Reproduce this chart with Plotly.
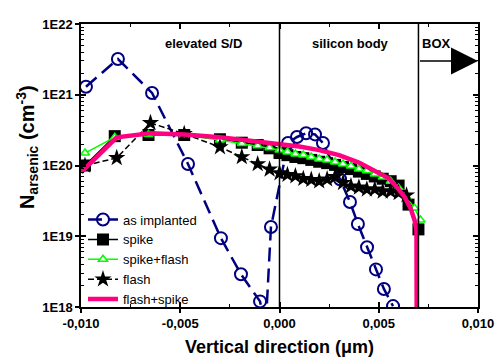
import math
import plotly.graph_objects as go

# ---------------- data ----------------
x_impl = [-0.00975, -0.00814, -0.00642, -0.00461, -0.00295, -0.00194, -0.00098, -0.0007, -0.00043,
          0.00043, 0.00088, 0.00134, 0.00179, 0.00219,
          0.00305, 0.00355, 0.00395, 0.00441, 0.00486, 0.00526, 0.00572]
y_impl = [1.3e21, 3.2e21, 1.06e21, 1.05e20, 9.4e18, 2.9e18, 1.2e18, 5e17, 1.35e19,
          2.08e20, 2.53e20, 2.85e20, 2.75e20, 2.08e20,
          6.4e19, 3.05e19, 1.49e19, 7.0e18, 3.4e18, 1.8e18, 1.03e18]

x_spike = [-0.0098, -0.0083, -0.0066, -0.0048, -0.0030, -0.0019, -0.0011, -0.0005,
           0.0000, 0.0004, 0.0008, 0.0012, 0.0016, 0.0020, 0.0024, 0.0028, 0.0032,
           0.0036, 0.0040, 0.0044, 0.0048, 0.0052, 0.0056, 0.0060, 0.0065, 0.0070]
y_spike = [1.0e20, 2.6e20, 2.7e20, 2.7e20, 2.35e20, 2.1e20, 1.95e20, 1.75e20,
           1.5e20, 1.4e20, 1.32e20, 1.27e20, 1.2e20, 1.13e20, 1.08e20, 1.02e20, 9.5e19,
           8.9e19, 8.2e19, 7.6e19, 7.0e19, 6.5e19, 6.0e19, 5.2e19, 2.8e19, 1.25e19]

x_sf = [-0.0098, -0.0083, -0.0066, -0.0048, -0.0030, -0.0019, -0.0011, -0.0005,
        0.0000, 0.0004, 0.0008, 0.0012, 0.0016, 0.0020, 0.0024, 0.0028, 0.0032,
        0.0036, 0.0040, 0.0044, 0.0048, 0.0052, 0.0056, 0.0060, 0.0064, 0.0068, 0.0071]
y_sf = [1.5e20, 2.5e20, 2.75e20, 2.7e20, 2.3e20, 2.05e20, 1.9e20, 1.78e20,
        1.66e20, 1.55e20, 1.45e20, 1.41e20, 1.32e20, 1.24e20, 1.2e20, 1.12e20, 1.05e20,
        9.8e19, 8.9e19, 8.4e19, 7.6e19, 6.9e19, 6.0e19, 4.8e19, 3.6e19, 2.5e19, 1.7e19]

x_flash = [-0.0098, -0.0082, -0.0065, -0.0048, -0.0030, -0.0019, -0.0011, -0.0005,
           0.0000, 0.0004, 0.0008, 0.0012, 0.0016, 0.0020, 0.0024, 0.0028, 0.0032,
           0.0036, 0.0040, 0.0044, 0.0048, 0.0052, 0.0056, 0.0060, 0.0064]
y_flash = [1.0e20, 1.28e20, 4.0e20, 2.8e20, 1.82e20, 1.32e20, 1.05e20, 8.8e19,
           7.8e19, 7.4e19, 7.1e19, 6.5e19, 6.3e19, 6.0e19, 6.4e19, 6.9e19, 5.7e19,
           5.1e19, 4.9e19, 4.6e19, 4.6e19, 4.3e19, 4.3e19, 4.1e19, 3.8e19]

x_fs = [-0.0100, -0.0082, -0.0065, -0.0048, -0.0030, -0.0013, 0.0000, 0.0010, 0.0020,
        0.0030, 0.0040, 0.0050, 0.0055, 0.0060, 0.0063, 0.0066, 0.0068, 0.0069, 0.00692]
y_fs = [8.0e19, 2.5e20, 2.85e20, 2.75e20, 2.5e20, 2.2e20, 2.05e20, 1.85e20, 1.65e20,
        1.4e20, 1.1e20, 8.0e19, 6.6e19, 4.6e19, 3.6e19, 2.5e19, 1.7e19, 1.2e19, 1e17]

x_tickvals = [-0.010, -0.005, 0.000, 0.005, 0.010]
x_ticktext = ["-0,010", "-0,005", "0,000", "0,005", "0,010"]
y_tickvals = [1e18, 1e19, 1e20, 1e21, 1e22]
y_ticktext = ["1E18", "1E19", "1E20", "1E21", "1E22"]

region_labels = ["elevated S/D", "silicon body", "BOX"]
region_x = [-0.00385, 0.0036, 0.0079]
boundaries = [0.0, 0.007]
arrow_y = 3.0e21

# ---------------- figure ----------------
FONT = "Arial, 'Liberation Sans', Helvetica, sans-serif"
fig = go.Figure()

fig.add_trace(go.Scatter(x=x_impl, y=y_impl, name="as implanted", mode="lines+markers",
                         line=dict(color="#000080", width=2.5, dash="14px,7px"),
                         marker=dict(symbol="circle-open", size=12, color="#000080",
                                     line=dict(width=2, color="#000080"))))
fig.add_trace(go.Scatter(x=x_spike, y=y_spike, name="spike", mode="lines+markers",
                         line=dict(color="black", width=1.5),
                         marker=dict(symbol="square", size=12, color="black")))
fig.add_trace(go.Scatter(x=x_sf, y=y_sf, name="spike+flash", mode="lines+markers",
                         line=dict(color="#00FF00", width=1.5),
                         marker=dict(symbol="triangle-up", size=8, color="white",
                                     line=dict(width=1.5, color="#00FF00"))))
fig.add_trace(go.Scatter(x=x_flash, y=y_flash, name="flash", mode="lines+markers",
                         line=dict(color="black", width=1.5, dash="6px,3px"),
                         marker=dict(symbol="star", size=13, color="black")))
fig.add_trace(go.Scatter(x=x_fs, y=y_fs, name="flash+spike", mode="lines",
                         line=dict(color="#FF0080", width=4.5)))
# invisible trace so the overlay axes (inner ticks) are drawn
fig.add_trace(go.Scatter(x=[-0.01], y=[1e18], xaxis="x2", yaxis="y2", mode="markers",
                         marker=dict(opacity=0), showlegend=False, hoverinfo="skip"))

for b in boundaries:
    fig.add_shape(type="line", x0=b, x1=b, y0=0, y1=1, xref="x", yref="paper",
                  line=dict(color="black", width=1.5))

fig.add_annotation(x=0.01, y=math.log10(arrow_y), ax=boundaries[1], ay=math.log10(arrow_y),
                   xref="x", yref="y", axref="x", ayref="y", showarrow=True,
                   arrowhead=2, arrowsize=3.6, arrowwidth=1.5, arrowcolor="black", text="")

for t, xv in zip(region_labels, region_x):
    fig.add_annotation(x=xv, y=21.72, xref="x", yref="y", text=t, showarrow=False,
                       font=dict(family=FONT, size=13, color="black", weight="bold"))

# y-axis title as rotated annotation
fig.add_annotation(x=-0.136, y=0.565, xref="paper", yref="paper", textangle=-90,
                   text="N<sub>arsenic</sub> (cm<sup>-3</sup>)", showarrow=False,
                   xanchor="center", yanchor="middle",
                   font=dict(family=FONT, size=20, color="black", weight="bold"))

tickfont = dict(family=FONT, size=13, color="black", weight="bold")
fig.update_layout(
    width=495, height=360,
    margin=dict(l=81, r=17, t=24, b=53, autoexpand=False),
    paper_bgcolor="white", plot_bgcolor="white",
    font=dict(family=FONT, color="black"),
    xaxis=dict(range=[-0.01, 0.01], tickvals=x_tickvals, ticktext=x_ticktext, automargin=False,
               ticks="outside", ticklen=4, tickwidth=1.5, tickcolor="black",
               showline=True, linewidth=1.5, linecolor="black", mirror=True,
               showgrid=False, zeroline=False, tickfont=tickfont,
               title=dict(text="Vertical direction (μm)", standoff=10,
                          font=dict(family=FONT, size=18, color="black", weight="bold"))),
    yaxis=dict(type="log", range=[18, 22], tickvals=y_tickvals, ticktext=y_ticktext,
               automargin=False,
               ticks="outside", ticklen=4, tickwidth=1.5, tickcolor="black",
               showline=True, linewidth=1.5, linecolor="black", mirror=True,
               showgrid=False, zeroline=False, tickfont=tickfont),
    xaxis2=dict(range=[-0.01, 0.01], overlaying="x", anchor="y", side="bottom", automargin=False,
                tickvals=x_tickvals, ticks="inside", ticklen=5, tickwidth=1.5, tickcolor="black",
                mirror="allticks", showticklabels=False, showline=False, showgrid=False,
                zeroline=False,
                minor=dict(dtick=0.0025, tick0=0, ticks="inside", ticklen=3, tickwidth=1.2,
                           tickcolor="black", showgrid=False)),
    yaxis2=dict(type="log", range=[18, 22], overlaying="y", anchor="x", side="left",
                automargin=False,
                dtick=1, ticks="inside", ticklen=5, tickwidth=1.5, tickcolor="black",
                mirror="allticks", showticklabels=False, showline=False, showgrid=False,
                zeroline=False,
                minor=dict(ticks="inside", ticklen=3, tickwidth=1, tickcolor="black",
                           showgrid=False)),
    legend=dict(x=0.005, y=0.362, xanchor="left", yanchor="top",
                bgcolor="rgba(0,0,0,0)", font=dict(family=FONT, size=13, color="black"),
                tracegroupgap=0, itemwidth=30),
    showlegend=True,
)

fig.write_html("out.html", config={"displayModeBar": False},
               post_script="document.body.style.margin='0px';document.body.style.overflow='hidden';")
